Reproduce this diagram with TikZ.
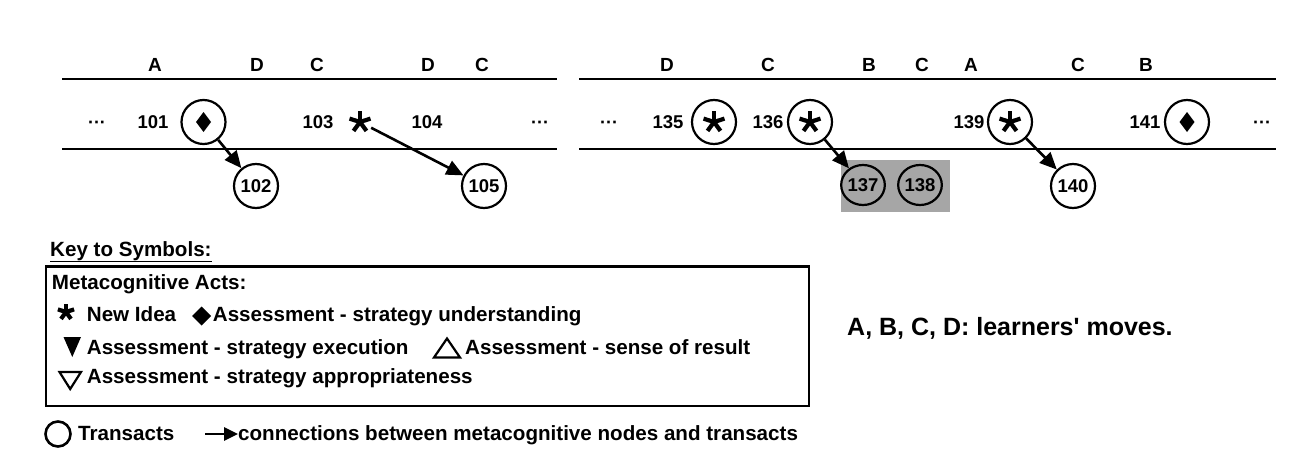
\documentclass[tikz,border=0pt]{standalone}
\usepackage{fontspec}
\setmainfont{Liberation Sans}
\newfontfamily\lsans{Liberation Sans}
\usetikzlibrary{arrows.meta,shapes.geometric}
\newcommand\astar[2]{%
  \foreach \a in {-90,-18,54,126,198} \draw[line width=4.2pt] (#1) -- ++(\a:#2);}
\newcommand\adiam[3]{%
  \fill (#1) ++(0,-#3) -- ++(#2,#3) -- ++(-#2,#3) -- ++(-#2,-#3) -- cycle;}
\begin{document}
\begin{tikzpicture}[x=1pt,y=-1pt,
  lab/.style={font=\lsans\fontsize{19}{19}\selectfont\bfseries, inner sep=0},
  num/.style={font=\lsans\fontsize{18.5}{18.5}\selectfont\bfseries, inner sep=0},
  dots/.style={font=\lsans\fontsize{18}{18}\selectfont\bfseries, inner sep=0, anchor=base},
  tc/.style={draw, ellipse, minimum width=44pt, minimum height=44pt, inner sep=0, line width=2.2pt, font=\lsans\fontsize{18.5}{18.5}\selectfont\bfseries},
  tcs/.style={tc, minimum width=38pt, minimum height=40pt},
  arr/.style={line width=2.6pt, -{Triangle[length=17pt,width=15pt]}},
  rule/.style={line width=2.4pt},
  leg/.style={font=\lsans\fontsize{20.6}{20.6}\selectfont\bfseries, inner sep=0, anchor=base west},
]
\useasboundingbox (0,0) rectangle (1295,463);
\fill[white] (0,0) rectangle (1295,463);

% ---------- left panel ----------
\draw[rule] (62,79) -- (557,79);
\draw[rule] (62,149) -- (557,149);
\foreach \t/\x [count=\i] in {A/155,D/257,C/317,D/428,C/482}
  \node[lab] (la\i) at (\x,65) {\t};
\node[dots] (ld1) at (97,128.5) {···};
\node[dots] (ld2) at (540,128.5) {···};
\node[num] (n101) at (153,122) {101};
\node[tc] (c101) at (203.5,122) {};
\adiam{c101.center}{7.5}{10}
\node[num] (n103) at (318,122) {103};
\node[inner sep=0, minimum size=22pt] (s103) at (360,122) {};
\astar{s103.center}{11}
\node[num] (n104) at (427,122) {104};
\node[tc] (c102) at (256,186) {102};
\node[tc] (c105) at (484,186) {105};
\draw[arr] (c101) -- (c102);
\draw[arr] (s103) -- (c105);

% ---------- right panel ----------
\draw[rule] (579,79) -- (1276,79);
\draw[rule] (579,149) -- (1276,149);
\foreach \t/\x [count=\i] in {D/667,C/768,B/869,C/922,A/971,C/1078,B/1146}
  \node[lab] (ra\i) at (\x,65) {\t};
\node[dots] (rd1) at (609,128.5) {···};
\node[dots] (rd2) at (1262,128.5) {···};
\node[num] (n135) at (668,122) {135};
\node[tc] (c135) at (714,122) {};
\astar{c135.center}{11}
\node[num] (n136) at (768,122) {136};
\node[tc] (c136) at (810,122) {};
\astar{c136.center}{11}
\node[num] (n139) at (969,122) {139};
\node[tc] (c139) at (1010,122) {};
\astar{c139.center}{11}
\node[num] (n141) at (1145,122) {141};
\node[tc] (c141) at (1187,122) {};
\adiam{c141.center}{7.5}{10}
\fill[black!35] (841,160) rectangle (950,212);
\node[tcs] (c137) at (863,185) {137};
\node[tcs] (c138) at (920,185) {138};
\node[tc] (c140) at (1073,186) {140};
\draw[arr] (c136) -- (c137);
\draw[arr] (c139) -- (c140);

% ---------- key ----------
\node[leg] (key) at (50,256) {\underline{Key to Symbols:}};
\draw[line width=2.4pt] (46,266.5) rectangle (809,406);
\node[leg] (meta) at (51.7,289.3) {Metacognitive Acts:};
\coordinate (kstar) at (66,312);
\astar{kstar}{8.5}
\node[leg] (tnew) at (86.7,321) {New Idea};
\coordinate (kdia) at (201.7,316);
\adiam{kdia}{9.5}{9.5}
\node[leg] (tund) at (212.7,321) {Assessment - strategy understanding};
\fill (63.5,337) -- (81,337) -- (72.3,357) -- cycle;
\node[leg] (texe) at (86.7,354.3) {Assessment - strategy execution};
\draw[line width=2.2pt,line join=miter] (434,357.5) -- (460,357.5) -- (447,338.5) -- cycle;
\node[leg] (tres) at (465,354.3) {Assessment - sense of result};
\draw[line width=2.2pt,line join=miter] (59.5,372) -- (81,372) -- (70.2,389) -- cycle;
\node[leg] (tapp) at (86.7,383.3) {Assessment - strategy appropriateness};

\node[draw, circle, line width=2.6pt, minimum size=25pt, inner sep=0] (ktc) at (58,434) {};
\node[leg] (ttr) at (78,440.7) {Transacts};
\coordinate (ka1) at (205,434);
\node[leg] (tcon) at (238,440.7) {connections between metacognitive nodes and transacts};
\coordinate (ka2) at (238,434);
\draw[line width=2.8pt, -{Triangle[length=14pt,width=13pt]}] (ka1) -- (ka2);

\node[leg, font=\lsans\fontsize{25}{25}\selectfont\bfseries] (moves) at (847,335) {A, B, C, D: learners' moves.};
\end{tikzpicture}
\end{document}
